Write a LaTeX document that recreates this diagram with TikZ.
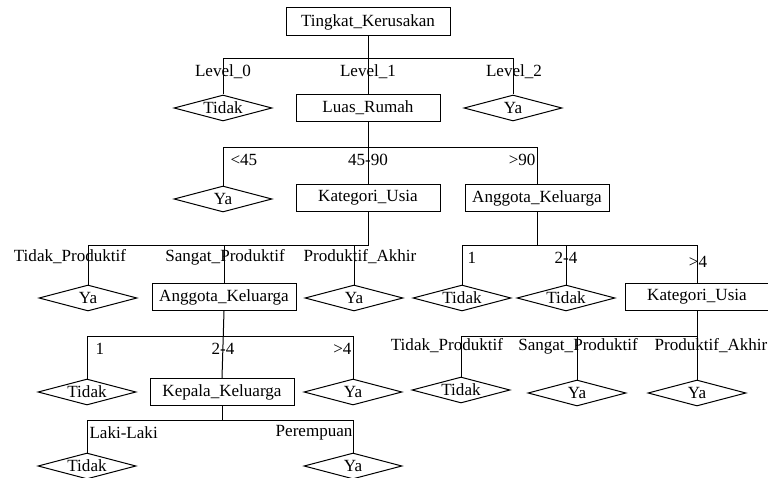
\documentclass[tikz,border=0pt]{standalone}
\usepackage{fontspec}
\setmainfont{Liberation Serif}
\usetikzlibrary{shapes.geometric}
\begin{document}
\begin{tikzpicture}[x=0.75pt, y=-0.75pt, line width=0.75pt,
  every node/.style={font=\fontsize{12.8}{15}\selectfont},
  attr/.style={draw, rectangle, minimum width=108pt, minimum height=20.25pt, inner sep=0pt},
  leaf/.style={draw, diamond, aspect=3.8, minimum width=73.5pt, minimum height=19.5pt, inner sep=0pt},
  lbl/.style={inner sep=0pt}]
  \useasboundingbox (0,0) rectangle (768,478);

  % nodes
  \node[attr, minimum width=123pt, minimum height=21pt] (root) at (368,22) {Tingkat\_Kerusakan};
  \node[leaf] (t0)  at (223,108) {Tidak};
  \node[attr] (luas) at (368,108) {Luas\_Rumah};
  \node[leaf] (y2)  at (513,108) {Ya};
  \node[leaf] (y45) at (223,199) {Ya};
  \node[attr] (ku1) at (368,198) {Kategori\_Usia};
  \node[attr] (ak1) at (537,198) {Anggota\_Keluarga};
  \node[leaf] (y3a) at (88,298) {Ya};
  \node[attr] (ak2) at (224,297) {Anggota\_Keluarga};
  \node[leaf] (y3c) at (354,298) {Ya};
  \node[leaf] (t3a) at (462,298) {Tidak};
  \node[leaf] (t3b) at (566,298) {Tidak};
  \node[attr] (ku2) at (697,297) {Kategori\_Usia};
  \node[leaf] (t4a) at (87,392) {Tidak};
  \node[attr] (kk)  at (222,392) {Kepala\_Keluarga};
  \node[leaf] (y4c) at (353,392) {Ya};
  \node[leaf] (t5a) at (87,466) {Tidak};
  \node[leaf] (y5b) at (353,466) {Ya};
  \node[leaf] (t4r) at (461,390) {Tidak};
  \node[leaf] (y4r) at (577,393) {Ya};
  \node[leaf] (y4s) at (697,393) {Ya};

  % split on Tingkat_Kerusakan
  \coordinate (b1) at (0,59);
  \draw (root.south) -- (luas.north);
  \draw (t0.north) -- (t0.north |- b1) -- (y2.north |- b1) -- (y2.north);
  \node[lbl] (l10) at (223,72) {Level\_0};
  \node[lbl] (l11) at (368,72) {Level\_1};
  \node[lbl] (l12) at (514,72) {Level\_2};

  % split on Luas_Rumah
  \coordinate (b2) at (0,147);
  \draw (luas.south) -- (ku1.north);
  \draw (y45.north) -- (y45.north |- b2) -- (ak1.north |- b2) -- (ak1.north);
  \node[lbl, anchor=west] (l21) at (230,160) {<45};
  \node[lbl] (l22) at (368,160) {45-90};
  \node[lbl, anchor=east] (l23) at (536,160) {>90};

  % split on Kategori_Usia (left)
  \coordinate (b3) at (0,245);
  \draw (ku1.south) -- (ku1.south |- b3) -- (y3a.north |- b3) -- (y3a.north);
  \draw (ak2.north |- b3) -- (ak2.north);
  \draw (y3c.north |- b3) -- (y3c.north);
  \node[lbl] (l31) at (70,257) {Tidak\_Produktif};
  \node[lbl] (l32) at (225,257) {Sangat\_Produktif};
  \node[lbl] (l33) at (360,257) {Produktif\_Akhir};

  % split on Anggota_Keluarga (right)
  \draw (ak1.south) -- (ak1.south |- b3);
  \draw (t3a.north) -- (t3a.north |- b3) -- (ku2.north |- b3) -- (ku2.north);
  \draw (t3b.north |- b3) -- (t3b.north);
  \node[lbl, anchor=west] (l34) at (467,258) {1};
  \node[lbl] (l35) at (566,258) {2-4};
  \node[lbl] (l36) at (698,262) {>4};

  % split on Anggota_Keluarga (left)
  \coordinate (b4) at (0,336);
  \draw (ak2.south) -- (kk.north);
  \draw (t4a.north) -- (t4a.north |- b4) -- (y4c.north |- b4) -- (y4c.north);
  \node[lbl, anchor=west] (l41) at (95,349) {1};
  \node[lbl] (l42) at (223,349) {2-4};
  \node[lbl, anchor=east] (l43) at (352,349) {>4};

  % split on Kategori_Usia (right)
  \draw (ku2.south) -- (y4s.north);
  \draw (t4r.north) -- (t4r.north |- b4) -- (y4s.north |- b4);
  \draw (y4r.north |- b4) -- (y4r.north);
  \node[lbl] (l44) at (447,346) {Tidak\_Produktif};
  \node[lbl] (l45) at (578,346) {Sangat\_Produktif};
  \node[lbl] (l46) at (711,346) {Produktif\_Akhir};

  % split on Kepala_Keluarga
  \coordinate (b5) at (0,420);
  \draw (kk.south) -- (kk.south |- b5);
  \draw (t5a.north) -- (t5a.north |- b5) -- (y5b.north |- b5) -- (y5b.north);
  \node[lbl, anchor=west] (l51) at (89,433) {Laki-Laki};
  \node[lbl, anchor=east] (l52) at (353,433) {Perempuan};
\end{tikzpicture}
\end{document}
